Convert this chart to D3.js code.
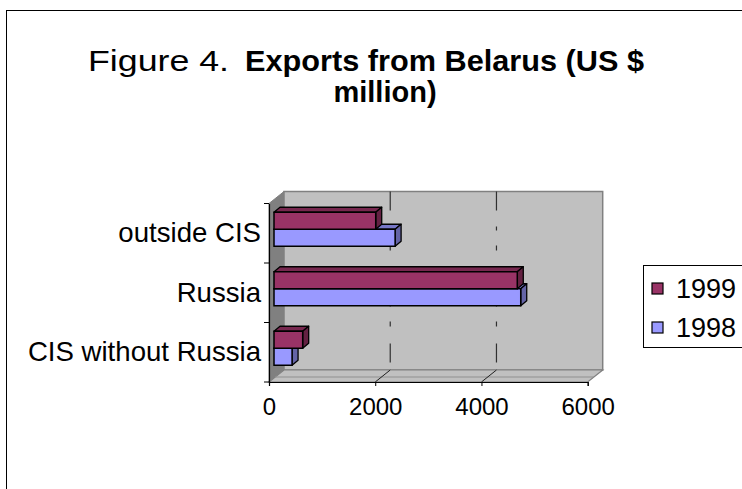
<!DOCTYPE html>
<html>
<head>
<meta charset="utf-8">
<script src="https://cdn.jsdelivr.net/npm/d3@7"></script>
<style>
  html, body { margin: 0; padding: 0; background: #fff; }
  svg { display: block; font-family: "Liberation Sans", Arial, sans-serif; }
</style>
</head>
<body>
<svg id="chart" width="742" height="489"></svg>
<script>
// ---- data ----
const categories = ["CIS without Russia", "Russia", "outside CIS"];
const seriesNames = ["1999", "1998"];
const values1999 = [540, 4580, 1915];
const values1998 = [340, 4645, 2280];
const xTickValues = [0, 2000, 4000, 6000];
const gridValues = [2000, 4000];
const seriesColors = ["#993366", "#9999FF"];
const titlePlain = "Figure 4.";
const titleBold1 = "Exports from Belarus (US $";
const titleBold2 = "million)";

// ---- layout ----
const svg = d3.select("#chart");
const frontLeft = 269, frontRight = 587.7, frontTop = 203.5, frontBottom = 382;
const depth = { dx: 15, dy: -12 };
const barOff = { dx: 5, dy: -4 };
const barDepth = { dx: 6, dy: -5 };

const x = d3.scaleLinear().domain([0, 6000]).range([frontLeft, frontRight]);
const y = d3.scaleBand().domain(categories.slice().reverse()).range([frontTop, frontBottom]).padding(0);
const inner = d3.scaleBand().domain(seriesNames).range([0, y.bandwidth()])
  .paddingInner(0).paddingOuter(0.75);

// outer frame
svg.append("rect").attr("x", 6.5).attr("y", 10.5).attr("width", 900).attr("height", 700)
  .attr("fill", "none").attr("stroke", "#000").attr("stroke-width", 1);

// title
svg.append("text").attr("x", 88).attr("y", 71).attr("font-size", 29).attr("fill", "#000")
  .attr("textLength", 141).attr("lengthAdjust", "spacingAndGlyphs").text(titlePlain);
svg.append("text").attr("x", 245).attr("y", 71).attr("font-size", 29).attr("font-weight", "bold").attr("fill", "#000")
  .attr("textLength", 399).attr("lengthAdjust", "spacingAndGlyphs").text(titleBold1);
svg.append("text").attr("text-anchor", "middle").attr("font-size", 29).attr("font-weight", "bold")
  .attr("x", 385).attr("y", 102).text(titleBold2);

// walls
const bx = v => x(v) + depth.dx;
const backTop = frontTop + depth.dy, backBottom = frontBottom + depth.dy;
svg.append("polygon")
  .attr("points", [[frontLeft, frontTop], [frontLeft + depth.dx, backTop], [frontLeft + depth.dx, backBottom], [frontLeft, frontBottom]].join(" "))
  .attr("fill", "#808080").attr("stroke", "#808080");
svg.append("rect").attr("x", bx(0)).attr("y", backTop).attr("width", bx(6000) - bx(0)).attr("height", backBottom - backTop)
  .attr("fill", "#C0C0C0").attr("stroke", "#808080").attr("stroke-width", 1.5);
svg.append("polygon")
  .attr("points", [[frontLeft, frontBottom], [bx(0), backBottom], [bx(6000), backBottom], [x(6000), frontBottom]].join(" "))
  .attr("fill", "#C0C0C0").attr("stroke", "#808080").attr("stroke-width", 1.2);
svg.append("line").attr("x1", frontLeft + 6).attr("x2", x(6000) + 6).attr("y1", 377).attr("y2", 377)
  .attr("stroke", "#909090").attr("stroke-width", 1);

// gridlines (back wall + floor)
svg.selectAll(".grid").data(gridValues).join("line").attr("class", "grid")
  .attr("x1", d => bx(d)).attr("x2", d => bx(d)).attr("y1", backTop).attr("y2", backBottom)
  .attr("stroke", "#303030").attr("stroke-width", 1.2).attr("stroke-dasharray", "19,16,4,15,5,17");
svg.selectAll(".floorgrid").data(gridValues).join("line").attr("class", "floorgrid")
  .attr("x1", d => bx(d)).attr("x2", d => x(d)).attr("y1", backBottom).attr("y2", frontBottom)
  .attr("stroke", "#202020").attr("stroke-width", 1);

// bars (lower bars first so upper ones cover their top faces)
const barData = [];
categories.forEach((c, i) => {
  barData.push({ cat: c, s: "1998", v: values1998[i], color: seriesColors[1] });
  barData.push({ cat: c, s: "1999", v: values1999[i], color: seriesColors[0] });
});
const bars = svg.selectAll(".bar").data(barData).join("g").attr("class", "bar");
bars.each(function (d) {
  const g = d3.select(this);
  const x0 = x(0) + barOff.dx, x1 = x(d.v) + barOff.dx;
  const y0 = y(d.cat) + inner(d.s) + barOff.dy, h = inner.bandwidth();
  const c = d3.color(d.color);
  const pts = a => a.map(p => p.join(",")).join(" ");
  g.append("polygon").attr("points", pts([[x0, y0], [x0 + barDepth.dx, y0 + barDepth.dy], [x1 + barDepth.dx, y0 + barDepth.dy], [x1, y0]]))
    .attr("fill", c.darker(0.7)).attr("stroke", "#000").attr("stroke-width", 1.3).attr("stroke-linejoin", "round");
  g.append("polygon").attr("points", pts([[x1, y0], [x1 + barDepth.dx, y0 + barDepth.dy], [x1 + barDepth.dx, y0 + h + barDepth.dy], [x1, y0 + h]]))
    .attr("fill", c.darker(1.2)).attr("stroke", "#000").attr("stroke-width", 1.3).attr("stroke-linejoin", "round");
  g.append("rect").attr("x", x0).attr("y", y0).attr("width", x1 - x0).attr("height", h)
    .attr("fill", d.color).attr("stroke", "#000").attr("stroke-width", 1.5);
});

// axes
const xAxis = d3.axisBottom(x).tickValues(xTickValues).tickSize(4).tickPadding(12).tickFormat(d3.format("d"));
const gx = svg.append("g").attr("transform", `translate(0,${frontBottom})`).call(xAxis);
gx.select(".domain").attr("stroke", "#000").attr("stroke-width", 1.2);
gx.selectAll("text").attr("font-size", 24).attr("fill", "#000").attr("font-family", "Liberation Sans, Arial, sans-serif");

const yAxis = d3.axisLeft(y).tickSize(0).tickPadding(8);
const gy = svg.append("g").attr("transform", `translate(${frontLeft},0)`).call(yAxis);
gy.select(".domain").attr("stroke", "#000").attr("stroke-width", 1.2);
gy.selectAll("text").attr("font-size", 27.6).attr("fill", "#000").attr("font-family", "Liberation Sans, Arial, sans-serif");
// category boundary ticks
const bounds = categories.map(c => y(c)).concat([frontBottom]);
gy.selectAll(".btick").data(bounds).join("line").attr("class", "btick")
  .attr("x1", -5).attr("x2", 0).attr("y1", d => d).attr("y2", d => d).attr("stroke", "#000");

// legend
const lg = svg.append("g");
lg.append("rect").attr("x", 643.5).attr("y", 265.5).attr("width", 120).attr("height", 82)
  .attr("fill", "#fff").attr("stroke", "#000").attr("stroke-width", 1);
const legendY = d3.scalePoint().domain(seriesNames).range([289, 328]);
const items = lg.selectAll(".li").data(seriesNames).join("g").attr("class", "li")
  .attr("transform", d => `translate(0,${legendY(d)})`);
items.append("rect").attr("x", 652).attr("y", -6).attr("width", 11).attr("height", 11)
  .attr("fill", (d, i) => seriesColors[i]).attr("stroke", "#000").attr("stroke-width", 1.2);
items.append("text").attr("x", 676).attr("y", 9).attr("font-size", 27).attr("fill", "#000").text(d => d);
</script>
</body>
</html>
